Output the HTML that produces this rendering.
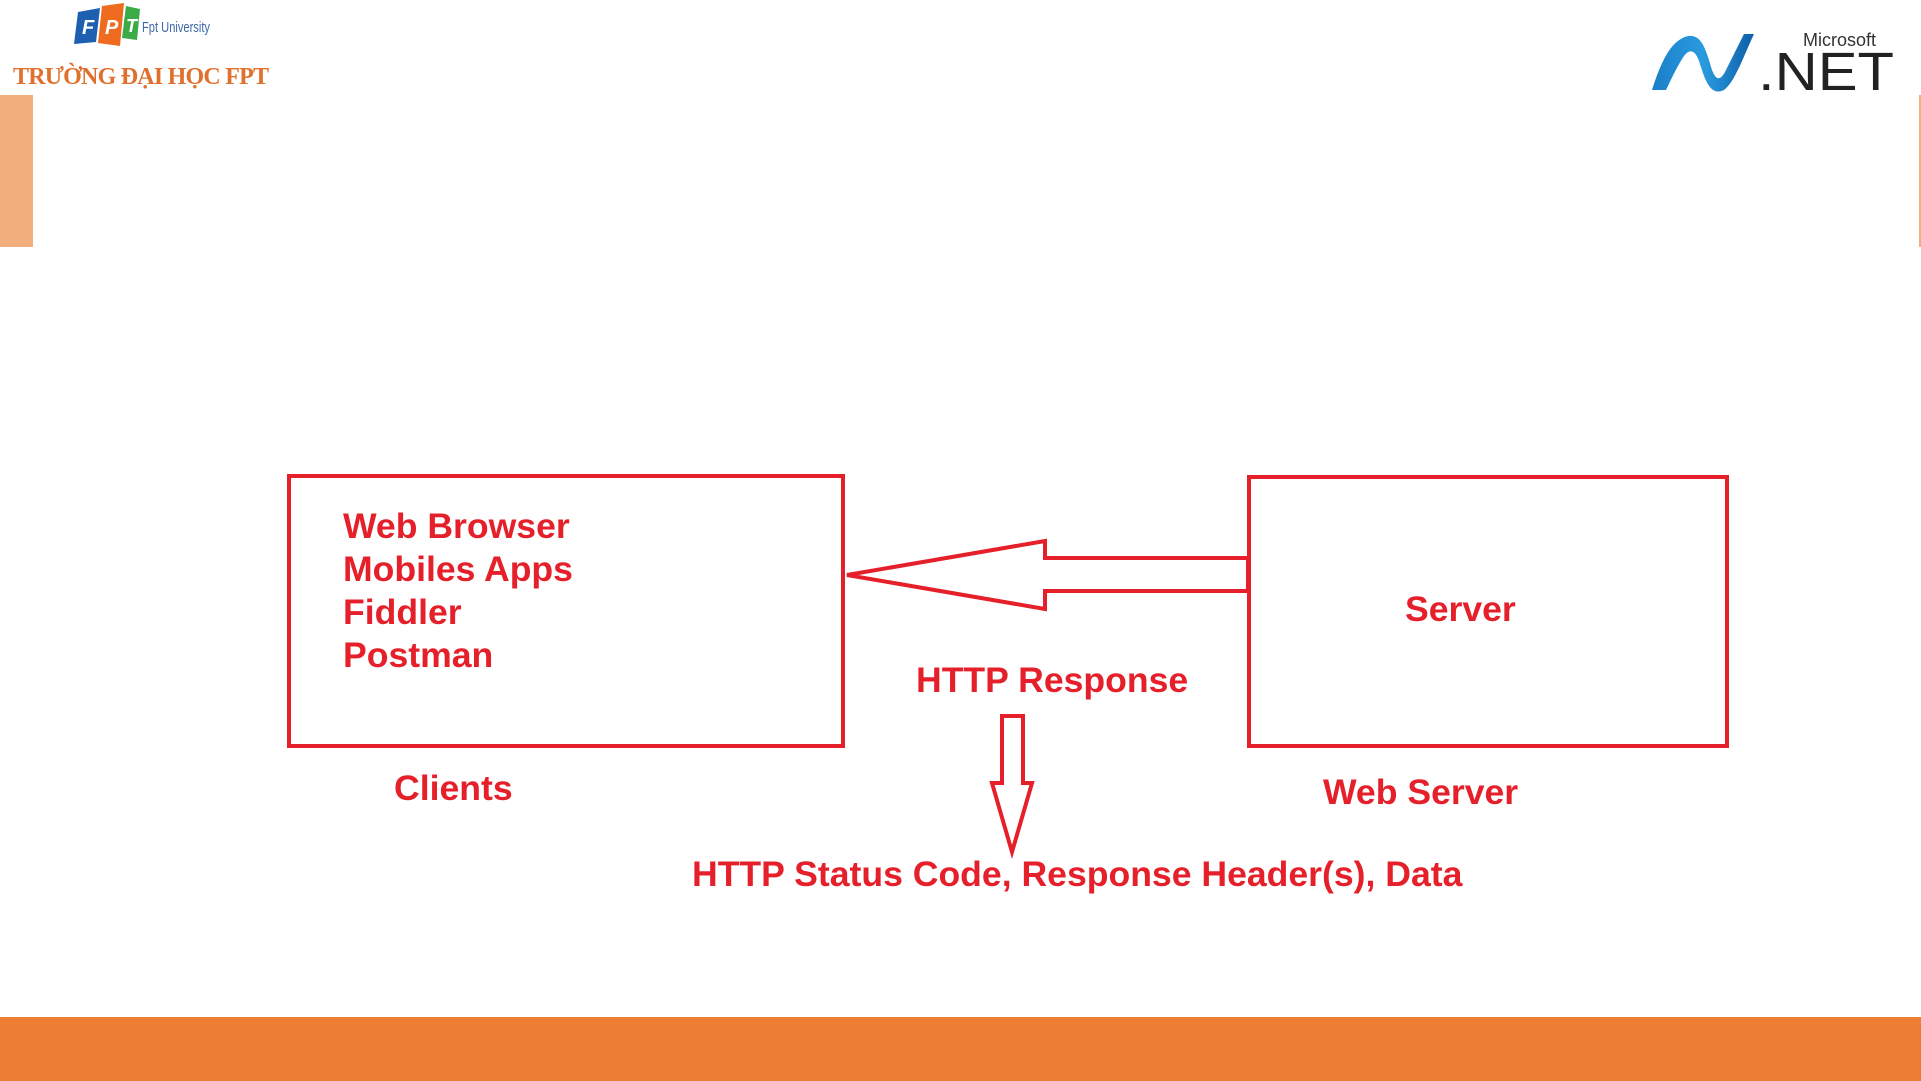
<!DOCTYPE html>
<html><head><meta charset="utf-8"><style>
html,body{margin:0;padding:0;background:#fff;}
body{width:1921px;height:1081px;position:relative;overflow:hidden;font-family:"Liberation Sans",Arial,sans-serif;}
.t{position:absolute;color:#E5202A;font-weight:bold;font-size:35.6px;white-space:nowrap;line-height:1;}
</style></head><body>
<svg style="position:absolute;left:0;top:0" width="300" height="100">
 <polygon points="78,12 100,8 96,42 74,44" fill="#1d5fb0"/>
 <polygon points="102,6 124,3 120,46 98,43" fill="#ef6b1f"/>
 <polygon points="126,6 140,9 137,40 122,38" fill="#3aab46"/>
 <text x="82" y="34" font-family="Liberation Sans" font-weight="bold" font-style="italic" font-size="20" fill="#fff">F</text>
 <text x="105" y="34" font-family="Liberation Sans" font-weight="bold" font-style="italic" font-size="20" fill="#fff">P</text>
 <text x="126" y="32" font-family="Liberation Sans" font-weight="bold" font-style="italic" font-size="18" fill="#fff">T</text>
 <text x="142" y="32" font-family="Liberation Sans" font-size="15" fill="#3c68a8" textLength="68" lengthAdjust="spacingAndGlyphs">Fpt University</text>
 <text x="13" y="84" font-family="Liberation Serif" font-weight="bold" font-size="24" fill="#e0702e" textLength="256">TRƯỜNG ĐẠI HỌC FPT</text>
</svg>
<div style="position:absolute;left:0;top:95px;width:33px;height:152px;background:#F3AE7E"></div>
<div style="position:absolute;left:1919px;top:95px;width:2px;height:152px;background:#F3AE7E"></div>
<svg style="position:absolute;left:1640px;top:20px" width="270" height="80">
 <defs><linearGradient id="g" x1="0" x2="1"><stop offset="0" stop-color="#1a7fc8"/><stop offset="0.5" stop-color="#2a9be0"/><stop offset="1" stop-color="#0d5fa8"/></linearGradient></defs>
 <path d="M12,70 C20,45 30,20 48,16 C62,14 66,30 72,50 C76,60 80,62 86,50 L104,14 L114,14 C104,35 95,62 84,70 C72,76 66,64 60,44 C56,30 50,28 44,36 C36,48 30,62 26,70 Z" fill="url(#g)"/>
 <text x="163" y="26" font-family="Liberation Sans" font-size="18" fill="#333">Microsoft</text>
 <text x="118" y="70" font-family="Liberation Sans" font-size="54" fill="#222" textLength="136" lengthAdjust="spacingAndGlyphs">.NET</text>
</svg>
<svg style="position:absolute;left:0;top:0" width="1921" height="1081">
 <g fill="none" stroke="#E5202A" stroke-width="4">
  <rect x="289" y="476" width="554" height="270"/>
  <rect x="1249" y="477" width="478" height="269"/>
  <polygon points="847,575 1045,541 1045,558 1248,558 1248,591 1045,591 1045,609"/>
  <polygon points="1002,716 1023,716 1023,783 1032,783 1012,852 992,783 1002,783"/>
 </g>
</svg>
<div class="t" style="left:343px;top:509px">Web Browser</div>
<div class="t" style="left:343px;top:552px">Mobiles Apps</div>
<div class="t" style="left:343px;top:595px">Fiddler</div>
<div class="t" style="left:343px;top:638px">Postman</div>
<div class="t" style="left:1405px;top:592px">Server</div>
<div class="t" style="left:916px;top:663px">HTTP Response</div>
<div class="t" style="left:394px;top:771px">Clients</div>
<div class="t" style="left:1323px;top:775px">Web Server</div>
<div class="t" style="left:692px;top:857px">HTTP Status Code, Response Header(s), Data</div>
<div style="position:absolute;left:0;top:1017px;width:1921px;height:64px;background:#EC7D33"></div>
</body></html>
